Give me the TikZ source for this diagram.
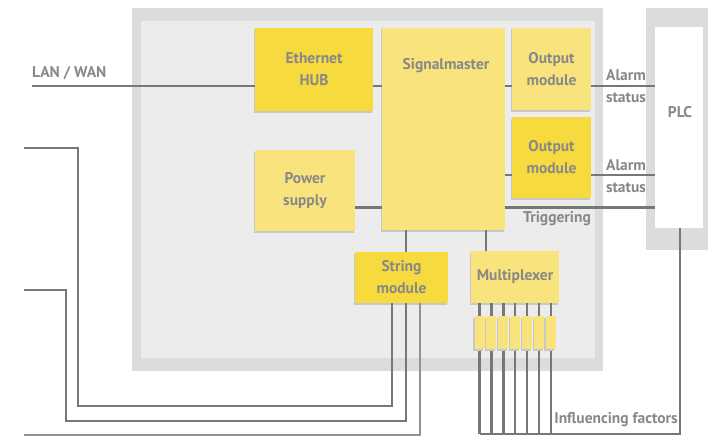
\documentclass[tikz,border=0pt]{standalone}
\usepackage{fontspec}
\setmainfont{PT Sans}
\usetikzlibrary{positioning, shadows}

\definecolor{boxdark}{HTML}{F6DA3E}
\definecolor{boxlight}{HTML}{F9E37D}
\definecolor{framedark}{HTML}{DCDCDC}
\definecolor{framelight}{HTML}{ECECEC}
\definecolor{wiregray}{HTML}{777777}
\definecolor{txtgray}{HTML}{888888}

\tikzset{
    txt/.style={text=txtgray, font=\fontsize{15.5}{22}\selectfont\bfseries, align=center, inner sep=0pt},
    unit/.style={fill=#1, txt, drop shadow={shadow xshift=-1.5pt, shadow yshift=-1.5pt, fill=black!22, opacity=1}},
    wire/.style={draw=wiregray, line width=2.5pt},
    thinwire/.style={draw=wiregray!80, line width=1.2pt}
}

\begin{document}
\begin{tikzpicture}[x=1pt, y=-1pt]
            \useasboundingbox (0,0) rectangle (715,436);
            \fill[framedark] (132,8) rectangle (603,371);
            \fill[framelight] (141,21) rectangle (595,358);
            \fill[framedark] (646,8) rectangle (708,250);

            \coordinate (r1) at (0,86);
            \coordinate (r2) at (0,175);
            \coordinate (r3) at (0,207.5);
            \coordinate (lan) at (32,86);

            \node[unit=boxdark, minimum width=118, minimum height=83] (hub) at (314,69.5) {Ethernet\\HUB};
            \node[unit=boxlight, minimum width=123, minimum height=202] (sm) at (443.5,129) {};
            \node[txt] (smtext) at (446,66) {Signalmaster};
            \node[unit=boxlight, minimum width=79, minimum height=82] (out1) at (551.5,69) {Output\\module};
            \node[unit=boxdark, minimum width=79, minimum height=81] (out2) at (551.5,157.5) {Output\\module};
            \node[unit=boxlight, minimum width=100, minimum height=81] (psu) at (305,190.5) {Power\\supply};
            \node[unit=boxdark, minimum width=93, minimum height=51] (str) at (401.5,277.5) {String\\module};
            \node[unit=boxlight, minimum width=88, minimum height=52] (mux) at (515,277) {Multiplexer};
            \node[fill=white, minimum width=48, minimum height=201] (plc) at (679,127.5) {};
            \node[txt] (plctext) at (680,112) {PLC};

            \draw[wire] (lan) -- (hub.west |- r1);
            \node[txt, above right=6pt and 0pt of lan] (lantext) {LAN / WAN};
            \draw[wire] (hub.east |- r1) -- (sm.west |- r1);
            \draw[wire] (sm.east |- r1) -- (out1.west |- r1);
            \draw[wire] (out1.east |- r1) -- (plc.west |- r1);
            \draw[wire] (sm.east |- r2) -- (out2.west |- r2);
            \draw[wire] (out2.east |- r2) -- (plc.west |- r2);
            \draw[wire] (sm.east |- r3) -- (plc.west |- r3);
            \draw[wire] (psu.east |- r3) -- (sm.west |- r3);
            \node[txt] (alarm1) at (626,86) {Alarm\\status};
            \node[txt] (alarm2) at (626,176) {Alarm\\status};
            \node[txt] (trig) at (557,219) {Triggering};

            \draw[wire] ([xshift=4.5]str.north |- sm.south) -- ([xshift=4.5]str.north);
            \draw[wire] ([xshift=-29]mux.north |- sm.south) -- ([xshift=-29]mux.north);

            % string wires out to the left
            \coordinate (sa) at (24,148);
            \coordinate (sb) at (24,290);
            \coordinate (sc) at (24,435);
            \draw[wire] ([xshift=-9.5]str.south) |- (78,406) |- (sa);
            \draw[wire] ([xshift=4.5]str.south) |- (66,421) |- (sb);
            \draw[thinwire] ([xshift=18.5]str.south) |- (sc);

            % sensor inputs of the multiplexer
            \coordinate (bus) at (680,434);
            \foreach \i in {0,...,6} {
                \coordinate (in\i) at (479.5+11.9*\i,434);
                \draw[wire] (in\i |- mux.south) -- (in\i);
                \node[unit=boxlight, minimum width=10, minimum height=33] (sens\i) at (479.5+11.9*\i,332.5) {};
            }
            \draw[wire] (in0) -- (bus) -- (plc.south -| bus);
            \node[txt] (infl) at (616,420) {Influencing factors};
        \end{tikzpicture}
\end{document}
